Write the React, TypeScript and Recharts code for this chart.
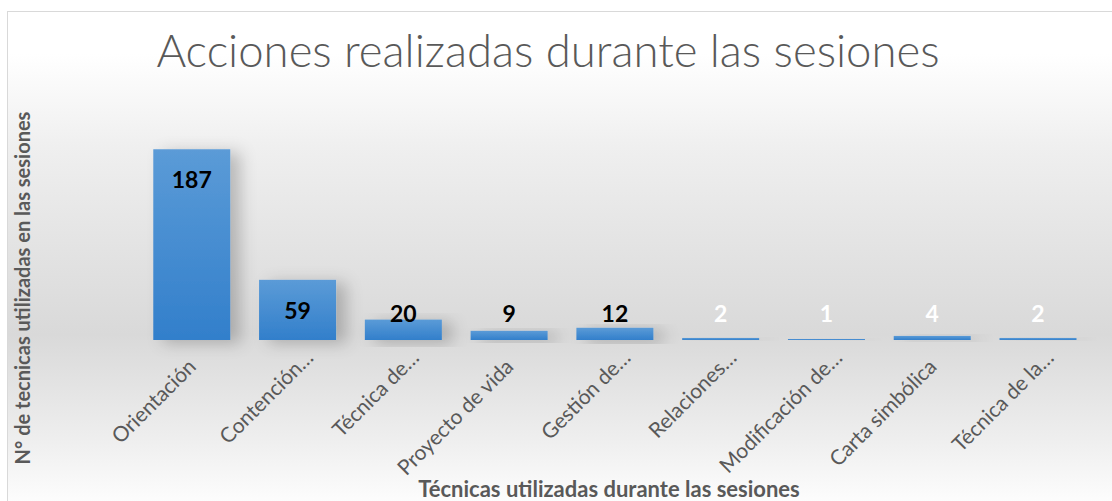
import { Bar, BarChart, LabelList, XAxis, YAxis } from "recharts";

const CATEGORIES = [
  "Orientación",
  "Contención…",
  "Técnica de…",
  "Proyecto de vida",
  "Gestión de…",
  "Relaciones…",
  "Modificación de…",
  "Carta simbólica",
  "Técnica de la…",
];

const VALUES = [187, 59, 20, 9, 12, 2, 1, 4, 2];

const data = CATEGORIES.map((name, i) => ({ name, value: VALUES[i] }));

const FONT = "Lato, 'Open Sans', sans-serif";

function Tick(props: any) {
  const { x, y, payload } = props;
  // truncated labels sit a little further along the slant, as in the original
  const cut = String(payload.value).endsWith("…");
  const tx = cut ? x + 17 : x + 5.5;
  const ty = cut ? y + 11 : y + 20;
  return (
    <text
      x={tx}
      y={ty}
      transform={`rotate(-45 ${tx} ${ty})`}
      textAnchor="end"
      fontFamily={FONT}
      fontSize={21}
      fill="#595959"
    >
      {payload.value}
    </text>
  );
}

function ValueLabel(props: any) {
  const { x, y, width, height, value } = props;
  const base = y + height;
  const cy = Math.min(y + 30, base - 27);
  return (
    <text
      x={x + width / 2}
      y={cy}
      textAnchor="middle"
      dominantBaseline="central"
      fontFamily={FONT}
      fontWeight="bold"
      fontSize={23}
      fill={value >= 5 ? "#000000" : "#ffffff"}
    >
      {value}
    </text>
  );
}

function BarShape(props: any) {
  const { x, y, width, height } = props;
  if (!height || height <= 0) return null;
  return (
    <rect
      x={x}
      y={y}
      width={width}
      height={height}
      fill="url(#barGrad)"
      filter="url(#barShadow)"
    />
  );
}

export default function App() {
  return (
    <div
      style={{
        position: "absolute",
        left: 0,
        top: 0,
        width: 1112,
        height: 501,
        overflow: "hidden",
        background: "#ffffff",
      }}
    >
      <svg width={0} height={0} style={{ position: "absolute" }}>
        <defs>
          <linearGradient id="barGrad" x1="0" y1="0" x2="0" y2="1">
            <stop offset="0%" stopColor="#5b9bd7" />
            <stop offset="100%" stopColor="#327fcb" />
          </linearGradient>
          <filter id="barShadow" x="-30%" y="-30%" width="180%" height="160%">
            <feDropShadow dx="10" dy="3" stdDeviation="8" floodColor="#000" floodOpacity="0.22" />
          </filter>
        </defs>
      </svg>
      <div
        style={{
          position: "absolute",
          left: 7,
          top: 11,
          width: 1120,
          height: 520,
          border: "1.5px solid #d9d9d9",
          background:
            "linear-gradient(to bottom, #ffffff 8%, #efefef 26%, #d9d9d9 62%, #eeeeee 82%, #ffffff 96%)",
        }}
      />
      <div
        style={{
          position: "absolute",
          left: 0,
          top: 22,
          width: 1096,
          textAlign: "center",
          fontFamily: FONT,
          fontWeight: 300,
          fontSize: 45.5,
          color: "#595959",
        }}
      >
        Acciones realizadas durante las sesiones
      </div>
      <div
        style={{
          position: "absolute",
          left: 22,
          top: 288,
          transform: "translate(-50%, -50%) rotate(-90deg)",
          whiteSpace: "nowrap",
          fontFamily: FONT,
          fontWeight: "bold",
          fontSize: 20,
          lineHeight: 1,
          color: "#595959",
        }}
      >
        N° de tecnicas utilizadas en las sesiones
      </div>
      <div
        style={{
          position: "absolute",
          left: 609,
          top: 489,
          transform: "translate(-50%, -50%)",
          whiteSpace: "nowrap",
          fontFamily: FONT,
          fontWeight: "bold",
          fontSize: 22,
          lineHeight: 1,
          color: "#595959",
        }}
      >
        Técnicas utilizadas durante las sesiones
      </div>
      <div style={{ position: "absolute", left: 0, top: 0 }}>
        <BarChart
          width={1112}
          height={501}
          data={data}
          margin={{ top: 136, right: 21, left: 139, bottom: 0 }}
          barCategoryGap="13.5%"
        >
          <XAxis
            dataKey="name"
            height={161}
            axisLine={false}
            tickLine={false}
            interval={0}
            tick={<Tick />}
          />
          <YAxis hide width={0} domain={[0, 200]} />
          <Bar dataKey="value" isAnimationActive={false} shape={<BarShape />}>
            <LabelList dataKey="value" content={<ValueLabel />} />
          </Bar>
        </BarChart>
      </div>
    </div>
  );
}
